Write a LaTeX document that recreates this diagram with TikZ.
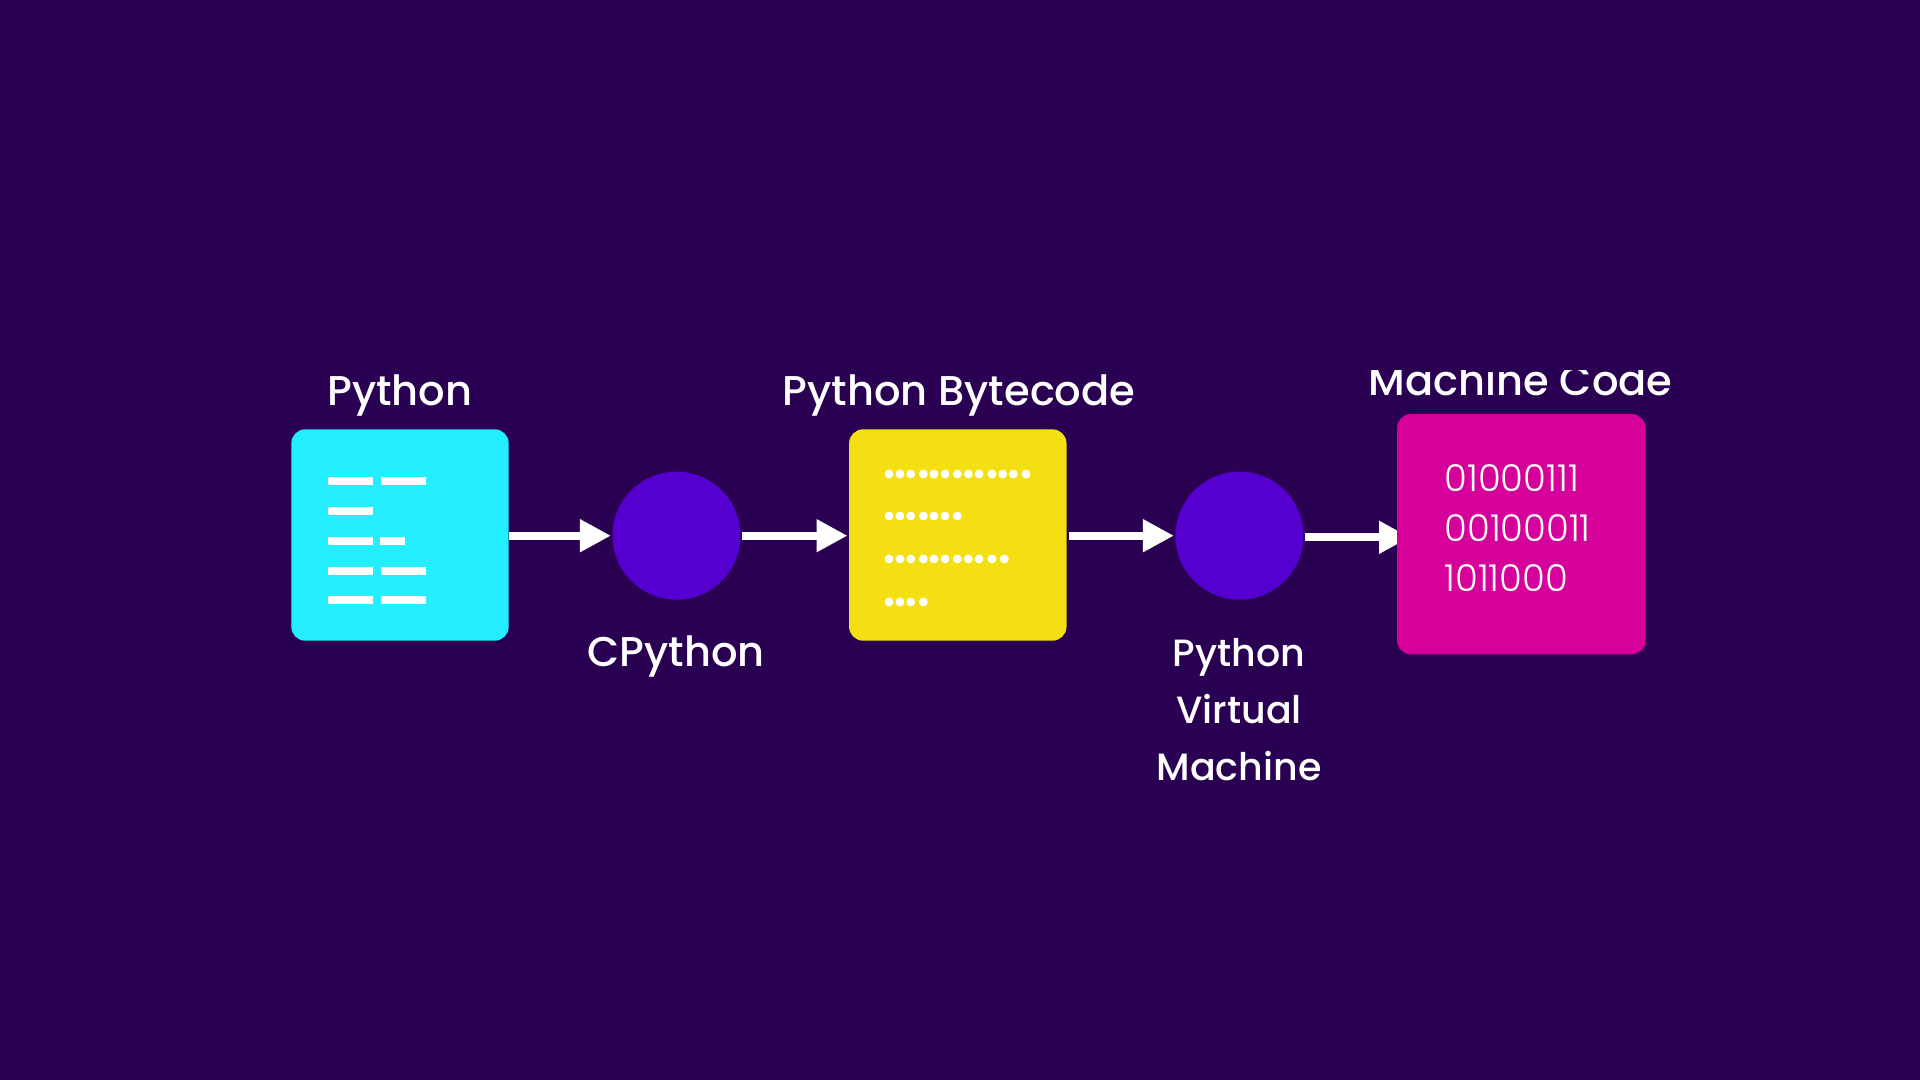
\documentclass[tikz,border=0pt]{standalone}
\usepackage{fontspec}
\setmainfont{Poppins}
\newfontfamily\lightfont{Poppins Light}
\newfontfamily\medfont{Poppins Medium}
\usetikzlibrary{arrows.meta}
\definecolor{bgc}{HTML}{2A0052}
\definecolor{cyanbox}{HTML}{22EEFF}
\definecolor{circ}{HTML}{5500D0}
\definecolor{yellowbox}{HTML}{F4E012}
\definecolor{magbox}{HTML}{D6009A}
\tikzset{
  boxa/.style={inner sep=0pt, rounded corners=7pt, minimum width=108.7pt, minimum height=105.7pt},
  proc/.style={circle, fill=circ, inner sep=0pt, minimum size=64pt},
  flow/.style={draw=white, line width=4pt, -{Triangle[length=15.5pt,width=15.5pt]}},
  lbl/.style={text=white, anchor=base, inner sep=0pt, font=\medfont\fontsize{20.8pt}{24pt}\selectfont},
  smalllbl/.style={text=white, anchor=base, inner sep=0pt, font=\medfont\fontsize{19pt}{24pt}\selectfont},
  bin/.style={text=white, anchor=base west, inner sep=0pt, font=\lightfont\fontsize{18.5pt}{24pt}\selectfont},
  bar/.style={fill=white},
  dotm/.style={fill=white}
}
\newcommand{\barline}[3]{\fill[bar] (#1,#3-4) rectangle (#2,#3+4);}
\begin{document}
\begin{tikzpicture}[x=0.5pt,y=-0.5pt]
\useasboundingbox (0,0) rectangle (1920,1080);
\fill[bgc] (0,0) rectangle (1920,1080);

\node[proc] (c1) at (676.5,535.7) {};
\node[proc] (c2) at (1239.5,535.7) {};
\node[boxa, fill=cyanbox] (b1) at (400,535) {};
\node[boxa, fill=yellowbox] (b2) at (957.8,535) {};

\coordinate (e4) at (1410,537.3);
\coordinate (s4) at (1305,537.3);
\draw[flow] (b1.east |- c1) -- ([xshift=-0.6pt]c1.west);
\draw[flow] ([xshift=0.7pt]c1.east) -- ([xshift=-0.6pt]b2.west |- c1);
\draw[flow] ([xshift=1pt]b2.east |- c2) -- ([xshift=-0.6pt]c2.west);
\draw[flow] (s4) -- (e4);

\node[inner sep=0pt, rounded corners=7pt, minimum width=124.3pt, minimum height=120.1pt, fill=magbox] (b3) at (1521.3,534.2) {};

% source-code bars
\foreach \y in {481,511,541,571,600} {\barline{328}{373}{\y}}
\foreach \y in {481,571,600} {\barline{381}{426}{\y}}
\barline{380}{405}{541}

% bytecode dots
\foreach \x in {387,420,452,490,522,555,592,625,657,696,728,760,798}
  \fill[dotm] (760+\x/3,474) circle[radius=4.4];
\foreach \x in {387,420,452,490,522,555,592}
  \fill[dotm] (760+\x/3,516) circle[radius=4.4];
\foreach \x in {387,420,452,490,522,555,592,625,657,696,733}
  \fill[dotm] (760+\x/3,559) circle[radius=4.4];
\foreach \x in {387,420,452,490}
  \fill[dotm] (760+\x/3,602) circle[radius=4.4];

% labels
\node[lbl] (l1) at (400,405) {Python};
\node[lbl] (l2) at (959,405) {Python Bytecode};
\node[lbl] (l3) at (676,666) {CPython};
\node[smalllbl] (l4a) at (1239,666) {Python};
\node[smalllbl] (l4b) at (1239,723) {Virtual};
\node[smalllbl] (l4c) at (1239,780) {Machine};
\begin{scope}
\clip (1300,370) rectangle (1720,420);
\node[lbl] (l5) at (1520.5,395) {Machine Code};
\end{scope}
\node[bin] (t1) at (1444,491) {01000111};
\node[bin] (t2) at (1444,541) {00100011};
\node[bin] (t3) at (1444,591) {1011000};
\end{tikzpicture}
\end{document}
